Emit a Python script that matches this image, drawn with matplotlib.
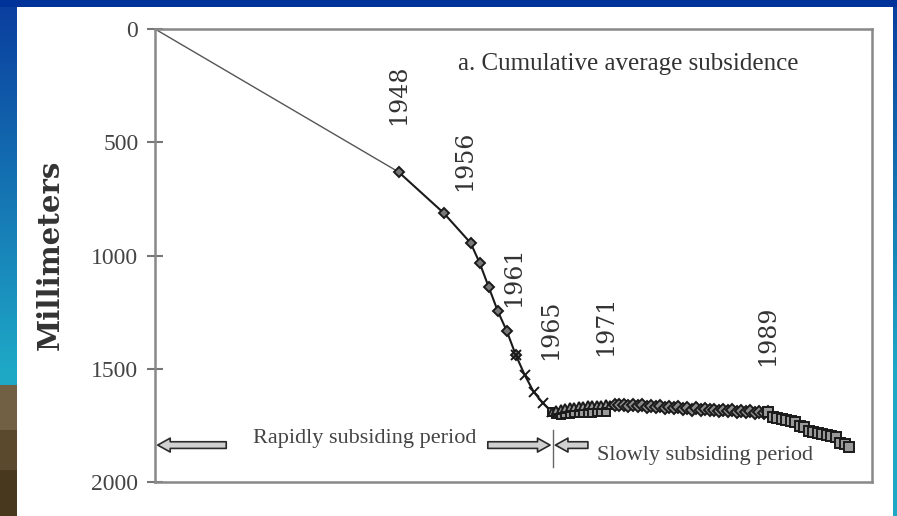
import matplotlib
matplotlib.use("Agg")
import matplotlib.pyplot as plt
import numpy as np

# cumulative average subsidence (mm) by year
early_years = [1921, 1948]
early_mm = [0, 631]

diamond_years = [1948, 1953, 1956, 1957, 1958, 1959, 1960, 1961]
diamond_mm = [631, 812, 945, 1033, 1139, 1245, 1333, 1439]

cross_years = [1961, 1962, 1963, 1964, 1965]
cross_mm = [1439, 1528, 1603, 1651, 1691]

square_years = [1965, 1965.5, 1966, 1966.5, 1967, 1967.5, 1968, 1968.5,
                1969, 1969.5, 1970, 1970.5, 1971]
square_mm = [1691, 1700, 1702, 1700, 1698, 1697, 1696, 1695,
             1694, 1694, 1693, 1692, 1690]

tri_years = [1965, 1965.5, 1966, 1966.5, 1967, 1967.5, 1968, 1968.5, 1969,
             1969.5, 1970, 1970.5, 1971, 1971.5, 1972]
tri_mm = [1691, 1680, 1676, 1672, 1670, 1668, 1665, 1663, 1662,
          1660, 1658, 1659, 1657, 1660, 1658]

mid_years = [1972, 1972.5, 1973, 1973.5, 1974, 1974.5, 1975, 1975.5, 1976,
             1976.5, 1977, 1977.5, 1978, 1978.5, 1979, 1979.5, 1980, 1980.5,
             1981, 1981.5, 1982, 1982.5, 1983, 1983.5, 1984, 1984.5, 1985,
             1985.5, 1986, 1986.5, 1987, 1987.5, 1988, 1988.5, 1989]
mid_mm = [1658, 1662, 1658, 1664, 1660, 1666, 1662, 1668, 1664,
          1670, 1666, 1672, 1668, 1674, 1669, 1678, 1672, 1680, 1675,
          1682, 1677, 1684, 1680, 1686, 1682, 1688, 1684, 1691, 1686,
          1693, 1688, 1695, 1690, 1694, 1690]

late_years = [1989, 1989.5, 1990, 1990.5, 1991, 1991.5, 1992, 1992.5, 1993,
              1993.5, 1994, 1994.5, 1995, 1995.5, 1996, 1996.5, 1997, 1997.5, 1998]
late_mm = [1690, 1712, 1717, 1722, 1726, 1731, 1735, 1752, 1756,
           1774, 1779, 1783, 1788, 1792, 1797, 1801, 1828, 1832, 1845]

year_labels = ["1948", "1956", "1961", "1965", "1971", "1989"]
label_x = [1948, 1955.3, 1960.8, 1964.9, 1971.0, 1988.9]
label_y = [291, 583, 1095, 1329, 1311, 1355]

W, H = 897, 516
fig = plt.figure(figsize=(W / 100, H / 100), dpi=100)

# slide background behind the white panel
bg = np.ones((H, W, 3))
rows = np.linspace(0, 1, H)[:, None]
blue = np.array([0.04, 0.24, 0.62])
teal = np.array([0.12, 0.66, 0.78])
grad = blue + (teal - blue) * np.clip(rows / 0.72, 0, 1)
bg[:, :17, :] = grad[:, None, :].repeat(17, axis=1)
bg[:, 893:, :] = grad[:, None, :].repeat(W - 893, axis=1)
bg[385:, :17, :] = [0.45, 0.38, 0.27]
bg[430:470, :17, :] = [0.36, 0.29, 0.18]
bg[470:, :17, :] = [0.28, 0.22, 0.12]
bg[:7, :, :] = [0.0, 0.2, 0.6]
bax = fig.add_axes([0, 0, 1, 1], zorder=-5)
bax.imshow(bg, aspect="auto", extent=[0, W, H, 0])
bax.axis("off")

ax = fig.add_axes([155 / W, 1 - 482 / H, 717 / W, 453 / H])
ax.set_facecolor("white")

mk = dict(color="#1a1a1a", lw=1.5, mec="#1a1a1a", mew=1.4)
ax.plot(early_years, early_mm, color="#555555", lw=1.0)
ax.plot(diamond_years, diamond_mm, marker="D", ms=5.5, mfc="#777777", **mk)
ax.plot(cross_years, cross_mm, marker="x", ms=7, **mk)
ax.plot(square_years, square_mm, marker="s", ms=6, mfc="#9a9a9a", **mk)
ax.plot(tri_years, tri_mm, marker="^", ms=6, mfc="#9a9a9a", **mk)
ax.plot(mid_years, mid_mm, marker="D", ms=6, mfc="#8a8a8a", **mk)
ax.plot(late_years, late_mm, marker="s", ms=6.5, mfc="#9a9a9a", **mk)

ax.set_xlim(1921, 2000.5)
ax.set_ylim(2000, 0)
ax.set_yticks([0, 500, 1000, 1500, 2000])
ax.set_xticks([])
ax.tick_params(axis="y", direction="inout", length=12, width=1.5,
               color="#777777", pad=6, labelsize=17, labelcolor="#444444")
for lab in ax.get_yticklabels():
    lab.set_family("Liberation Serif")
for sp in ax.spines.values():
    sp.set_color("#888888")
    sp.set_linewidth(1.8)

fig.text(50 / W, 1 - 255 / H, "Millimeters", rotation=90, ha="center",
         va="center", family="DejaVu Serif", fontsize=21, fontweight="bold",
         color="#333333")

ax.text(1954.6, 155, "a. Cumulative average subsidence", ha="left",
        va="center", family="Liberation Serif", fontsize=18, color="#333333")

for t, x, y in zip(year_labels, label_x, label_y):
    ax.text(x, y, t, rotation=90, ha="center", va="center",
            family="DejaVu Serif", fontsize=17, color="#333333")

# period arrows along the bottom
arrow_kw = dict(arrowstyle="simple,head_length=0.45,head_width=0.5,tail_width=0.24",
                fc="#d0d0d0", ec="#2a2a2a", lw=1.2, mutation_scale=20,
                shrinkA=0, shrinkB=0)
ax.annotate("", xy=(1921.3, 1837), xytext=(1928.9, 1837), arrowprops=arrow_kw)
ax.annotate("", xy=(1964.8, 1837), xytext=(1957.9, 1837), arrowprops=arrow_kw)
ax.annotate("", xy=(1965.4, 1837), xytext=(1969.0, 1837), arrowprops=arrow_kw)
ax.plot([1965.1, 1965.1], [1770, 1935], color="#666666", lw=1.0)

ax.text(1931.9, 1806, "Rapidly subsiding period", ha="left", va="center",
        family="Liberation Serif", fontsize=16, color="#444444")
ax.text(1970.0, 1881, "Slowly subsiding period", ha="left", va="center",
        family="Liberation Serif", fontsize=16, color="#444444")

fig.savefig("out.png", dpi=100)
